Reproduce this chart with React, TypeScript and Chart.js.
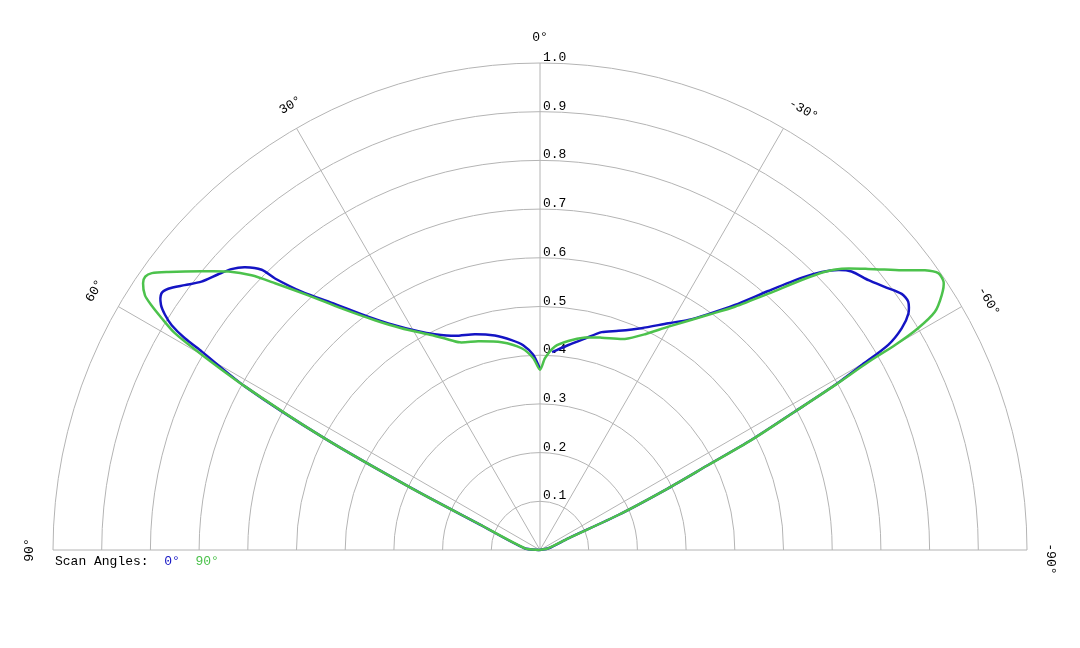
import React, { useEffect, useRef } from "react";
import { Chart, registerables } from "chart.js";

Chart.register(...registerables);

// Polar data: angle (degrees, positive = left of 0°) and relative magnitude
const greenRightAngles = [-90, -78.4, -67.5, -65.9, -64.3, -63.2, -62.5, -61.5, -60.8, -60.2, -60.0, -59.6, -58.9, -57.6, -56.4, -55.2, -54.0, -52.3, -49.4, -47.0, -45.7, -44.1, -41.7, -38.7, -35.6, -29.9, -26.0, -21.9, -16.2, -12.0, -7.7, -4.2, -1.5, 0];
const greenRightRadii = [0, 0.017, 0.063, 0.176, 0.292, 0.387, 0.49, 0.596, 0.694, 0.777, 0.842, 0.9, 0.947, 0.977, 0.995, 0.996, 0.977, 0.939, 0.887, 0.847, 0.818, 0.772, 0.705, 0.64, 0.594, 0.529, 0.493, 0.467, 0.454, 0.446, 0.433, 0.419, 0.394, 0.37];
const greenLeftAngles = [2.0, 5.2, 10.5, 16.5, 21.1, 24.2, 27.4, 32.0, 35.7, 39.4, 42.3, 44.8, 46.4, 48.2, 50.5, 53.2, 54.5, 55.3, 56.1, 57.2, 57.8, 58.5, 59.3, 60.0, 61.0, 62.6, 64.3, 67.0, 83.5, 90];
const greenLeftRadii = [0.394, 0.416, 0.434, 0.447, 0.457, 0.476, 0.499, 0.537, 0.581, 0.642, 0.707, 0.772, 0.818, 0.858, 0.9, 0.953, 0.979, 0.986, 0.982, 0.965, 0.943, 0.911, 0.872, 0.802, 0.692, 0.498, 0.292, 0.134, 0.031, 0];

const blueRightAngles = [-90, -78.4, -67.5, -65.9, -64.3, -63.2, -62.5, -61.5, -60.8, -60.1, -59.5, -58.5, -57.3, -56.0, -54.7, -52.7, -50.6, -48.2, -46.8, -45.4, -43.9, -41.4, -38.5, -35.5, -32.8, -29.5, -24.6, -19.7, -15.8, -12.0, -7.9, -3.5];
const blueRightRadii = [0, 0.018, 0.064, 0.176, 0.291, 0.386, 0.489, 0.595, 0.692, 0.763, 0.83, 0.871, 0.899, 0.912, 0.91, 0.891, 0.873, 0.858, 0.84, 0.813, 0.776, 0.709, 0.643, 0.595, 0.562, 0.535, 0.501, 0.478, 0.465, 0.444, 0.425, 0.407];
const blueLeftAngles = [0, 2.0, 4.7, 7.7, 11.9, 16.8, 21.6, 26.0, 29.1, 33.8, 36.4, 39.8, 42.7, 44.3, 44.8, 46.2, 47.7, 49.4, 51.6, 53.3, 54.9, 55.9, 57.1, 57.9, 58.6, 59.2, 59.6, 61.0, 62.6, 64.3, 67.0, 83.5, 90];
const blueLeftRadii = [0.372, 0.401, 0.422, 0.435, 0.45, 0.463, 0.473, 0.493, 0.514, 0.56, 0.595, 0.657, 0.722, 0.779, 0.811, 0.839, 0.857, 0.87, 0.887, 0.91, 0.933, 0.939, 0.927, 0.909, 0.886, 0.849, 0.805, 0.693, 0.499, 0.293, 0.135, 0.032, 0];

const ringValues = [0.1, 0.2, 0.3, 0.4, 0.5, 0.6, 0.7, 0.8, 0.9, 1.0];
const ringLabels = ["0.1", "0.2", "0.3", "0.4", "0.5", "0.6", "0.7", "0.8", "0.9", "1.0"];
const spokeAngles = [-90, -60, -30, 0, 30, 60, 90];
const angleLabels = ["0°", "30°", "60°", "90°", "-30°", "-60°", "-90°"];
const angleLabelRot = [0, 30, 60, 90, -30, -60, -90];
const legendTitle = "Scan Angles:";
const seriesNames = ["0°", "90°"];

const BLUE = "#1414c4";
const GREEN = "#4cc24c";
const GRID = "#b4b4b4";
const FONT = '13px "Liberation Mono", "Courier New", monospace';

// layout tweaks for angle labels (placement angle, radius factor)
const labelPlaceAngle = [0, 29.3, 59.8, 90, -30.9, -61, -91];
const labelPlaceRadius = [1.053, 1.047, 1.058, 1.049, 1.053, 1.053, 1.049];

const toXY = (deg: number, r: number) => {
  const t = (deg * Math.PI) / 180;
  return { x: -r * Math.sin(t), y: r * Math.cos(t) };
};

const polarGrid = {
  id: "polarGrid",
  beforeDatasetsDraw(chart: any) {
    const { ctx, scales } = chart;
    const xs = scales.x;
    const ys = scales.y;
    const cx = xs.getPixelForValue(0);
    const cy = ys.getPixelForValue(0);
    const R = xs.getPixelForValue(1) - cx;
    ctx.save();
    ctx.strokeStyle = GRID;
    ctx.lineWidth = 1;
    ringValues.forEach((v) => {
      ctx.beginPath();
      ctx.arc(cx, cy, R * v, Math.PI, 2 * Math.PI);
      ctx.stroke();
    });
    spokeAngles.forEach((a) => {
      const p = toXY(a, 1);
      ctx.beginPath();
      ctx.moveTo(cx, cy);
      ctx.lineTo(xs.getPixelForValue(p.x), ys.getPixelForValue(p.y));
      ctx.stroke();
    });
    ctx.fillStyle = "#000";
    ctx.font = FONT;
    ctx.textAlign = "left";
    ctx.textBaseline = "alphabetic";
    ringValues.forEach((v, i) => {
      ctx.fillText(ringLabels[i], cx + 3, ys.getPixelForValue(v) - 2);
    });
    ctx.restore();
  },
  afterDatasetsDraw(chart: any) {
    const { ctx, scales } = chart;
    const xs = scales.x;
    const ys = scales.y;
    ctx.save();
    ctx.font = FONT;
    ctx.fillStyle = "#000";
    ctx.textAlign = "center";
    ctx.textBaseline = "middle";
    angleLabels.forEach((lab, i) => {
      const p = toXY(labelPlaceAngle[i], labelPlaceRadius[i]);
      ctx.save();
      ctx.translate(xs.getPixelForValue(p.x), ys.getPixelForValue(p.y));
      ctx.rotate((-angleLabelRot[i] * Math.PI) / 180);
      ctx.fillText(lab, 0, 0);
      ctx.restore();
    });
    // legend
    ctx.textAlign = "left";
    ctx.textBaseline = "alphabetic";
    const cw = ctx.measureText("0").width;
    const lx = xs.left + 2;
    const ly = ys.bottom + 15;
    ctx.fillStyle = "#000";
    ctx.fillText(legendTitle, lx, ly);
    ctx.fillStyle = BLUE;
    ctx.fillText(seriesNames[0], lx + cw * 14, ly);
    ctx.fillStyle = GREEN;
    ctx.fillText(seriesNames[1], lx + cw * 18, ly);
    ctx.restore();
  },
};

export default function App() {
  const ref = useRef<HTMLCanvasElement | null>(null);
  useEffect(() => {
    if (!ref.current) return;
    const green = [
      ...greenRightAngles.map((a, i) => toXY(a, greenRightRadii[i])),
      ...greenLeftAngles.map((a, i) => toXY(a, greenLeftRadii[i])),
    ];
    const blue: any[] = [
      ...blueRightAngles.map((a, i) => toXY(a, blueRightRadii[i])),
      { x: 0, y: null },
      ...blueLeftAngles.map((a, i) => toXY(a, blueLeftRadii[i])),
    ];
    const chart = new Chart(ref.current, {
      type: "scatter",
      data: {
        datasets: [
          {
            label: seriesNames[1],
            data: green,
            showLine: true,
            borderColor: GREEN,
            backgroundColor: GREEN,
            borderWidth: 2.5,
            pointRadius: 0,
            tension: 0.25,
            spanGaps: false,
            clip: false,
          } as any,
          {
            label: seriesNames[0],
            data: blue,
            showLine: true,
            borderColor: BLUE,
            backgroundColor: BLUE,
            borderWidth: 2.5,
            pointRadius: 0,
            tension: 0.25,
            spanGaps: false,
            clip: false,
          } as any,
        ],
      },
      options: {
        animation: false,
        responsive: false,
        devicePixelRatio: 1,
        layout: { autoPadding: false, padding: { left: 53, right: 53, top: 63, bottom: 98 } },
        scales: {
          x: { type: "linear", min: -1, max: 1, display: false },
          y: { type: "linear", min: 0, max: 1, display: false },
        },
        plugins: { legend: { display: false }, tooltip: { enabled: false } },
        events: [],
      } as any,
      plugins: [polarGrid],
    });
    return () => chart.destroy();
  }, []);
  return (
    <div style={{ position: "fixed", left: 0, top: 0, width: 1080, height: 648, background: "#fff" }}>
      <canvas ref={ref} width={1080} height={648} style={{ display: "block" }} />
    </div>
  );
}
